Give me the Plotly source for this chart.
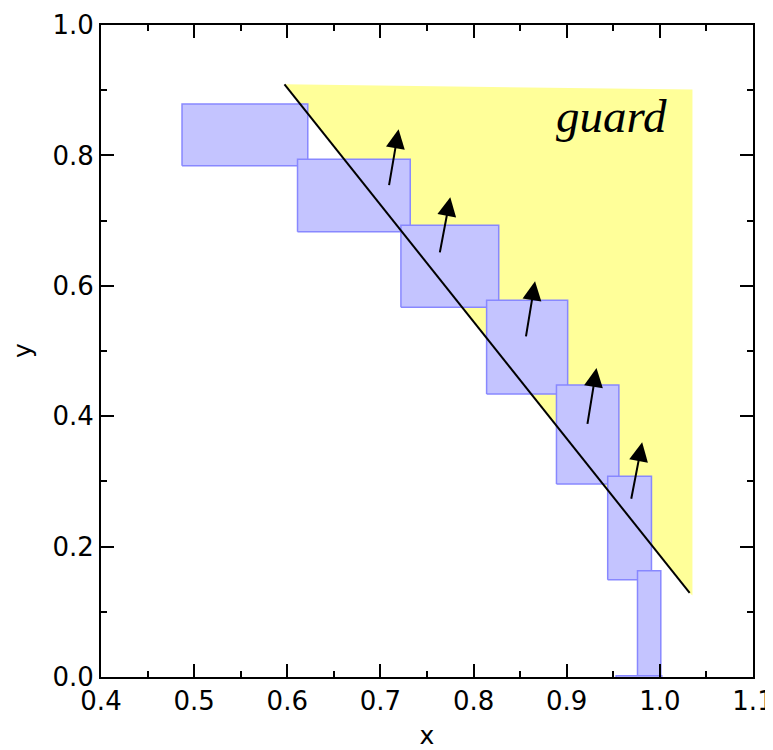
import plotly.graph_objects as go

# Boxes: [x0, x1, y0, y1]
box_x0 = [0.487, 0.611, 0.722, 0.814, 0.889, 0.944, 0.976, 0.953]
box_x1 = [0.622, 0.732, 0.827, 0.901, 0.956, 0.991, 1.001, 1.002]
box_y0 = [0.784, 0.683, 0.567, 0.434, 0.296, 0.149, 0.000, -0.050]
box_y1 = [0.879, 0.794, 0.693, 0.578, 0.448, 0.308, 0.163, 0.002]

# Guard region polygon
guard_x = [0.597, 1.035, 1.035, 1.032, 0.597]
guard_y = [0.909, 0.901, 0.125, 0.129, 0.909]

# Boundary line
line_x = [0.597, 1.032]
line_y = [0.909, 0.129]

# Arrows: tail (ax, ay) -> tip (x, y)
arrow_tail_x = [0.709, 0.7635, 0.856, 0.922, 0.969]
arrow_tail_y = [0.752, 0.649, 0.520, 0.386, 0.271]
arrow_tip_x = [0.7195, 0.775, 0.866, 0.932, 0.981]
arrow_tip_y = [0.840, 0.736, 0.607, 0.474, 0.360]

x_ticks = [0.4, 0.5, 0.6, 0.7, 0.8, 0.9, 1.0, 1.1]
y_ticks = [0.0, 0.2, 0.4, 0.6, 0.8, 1.0]

fig = go.Figure()

fig.add_trace(go.Scatter(x=guard_x, y=guard_y, mode="lines", fill="toself",
                         fillcolor="#ffff99", line=dict(width=0),
                         hoverinfo="skip", showlegend=False))

for x0, x1, y0, y1 in zip(box_x0, box_x1, box_y0, box_y1):
    fig.add_trace(go.Scatter(x=[x0, x1, x1, x0, x0], y=[y0, y0, y1, y1, y0],
                             mode="lines", fill="toself",
                             fillcolor="rgb(196,196,255)",
                             line=dict(color="rgb(136,136,255)", width=1.5),
                             hoverinfo="skip", showlegend=False))

fig.add_trace(go.Scatter(x=line_x, y=line_y, mode="lines",
                         line=dict(color="black", width=2),
                         hoverinfo="skip", showlegend=False))

for tx, ty, hx, hy in zip(arrow_tail_x, arrow_tail_y, arrow_tip_x, arrow_tip_y):
    fig.add_annotation(x=hx, y=hy, ax=tx, ay=ty, xref="x", yref="y",
                       axref="x", ayref="y", showarrow=True, text="",
                       arrowhead=2, arrowsize=1.9, arrowwidth=2,
                       arrowcolor="black")

fig.add_annotation(x=0.948, y=0.86, xref="x", yref="y", text="guard",
                   showarrow=False,
                   font=dict(family="Liberation Serif", size=47, color="black",
                             style="italic"))

tick_font = dict(family="DejaVu Sans", size=26, color="black")
title_font = dict(family="DejaVu Sans", size=25, color="black")

# y-axis title as a rotated annotation for precise placement
fig.add_annotation(x=-0.121, y=0.5, xref="paper", yref="paper", text="y",
                   showarrow=False, textangle=-90, font=title_font,
                   xanchor="center", yanchor="middle")

fig.update_xaxes(range=[0.4, 1.1], tickvals=x_ticks,
                 ticktext=[f"{v:.1f}" for v in x_ticks],
                 ticks="inside", ticklen=13, tickwidth=2, tickcolor="black",
                 minor=dict(ticks="inside", ticklen=6, tickwidth=2,
                            tickcolor="black", dtick=0.05, tick0=0.4),
                 showline=True, linewidth=2, linecolor="black", mirror="allticks",
                 showgrid=False, zeroline=False, tickfont=tick_font,
                 automargin=False, ticklabeloverflow="allow",
                 title=dict(text="x", font=title_font, standoff=12))
fig.update_yaxes(range=[0.0, 1.0], tickvals=y_ticks,
                 ticktext=[f"{v:.1f}" for v in y_ticks],
                 ticks="inside", ticklen=13, tickwidth=2, tickcolor="black",
                 minor=dict(ticks="inside", ticklen=6, tickwidth=2,
                            tickcolor="black", dtick=0.1, tick0=0.0),
                 showline=True, linewidth=2, linecolor="black", mirror="allticks",
                 showgrid=False, zeroline=False, tickfont=tick_font,
                 automargin=False, ticklabeloverflow="allow")

fig.update_layout(width=765, height=742,
                  margin=dict(l=93, r=20, t=17, b=73),
                  plot_bgcolor="white", paper_bgcolor="white")

fig.write_html("out.html")
